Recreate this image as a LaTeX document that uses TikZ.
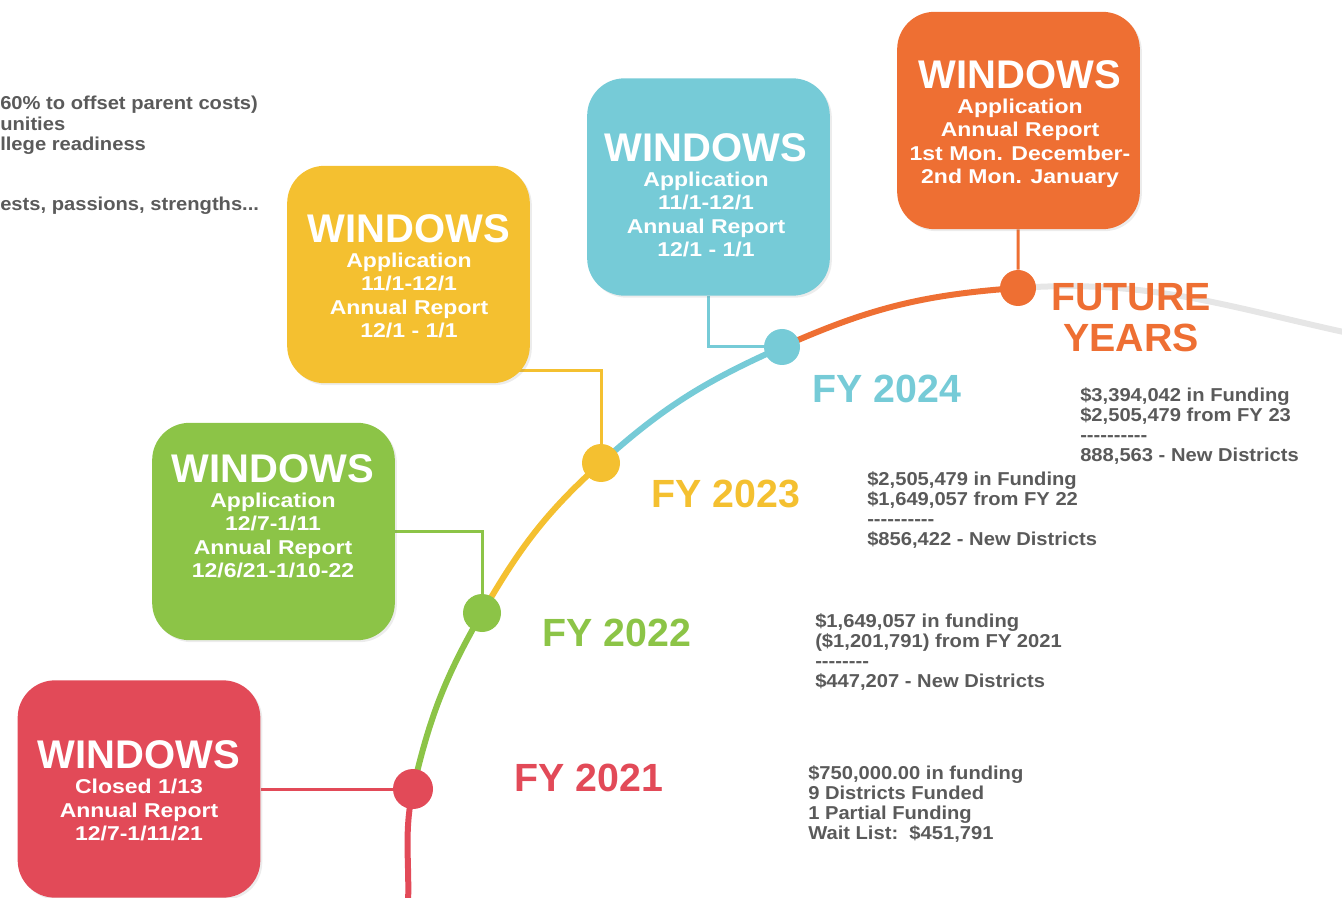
\documentclass[tikz,border=0pt]{standalone}
\usepackage{fontspec}
\setmainfont{Liberation Sans}
\newfontfamily\widefont[FakeStretch=1.15]{Liberation Sans}
\newfontfamily\notefont[FakeStretch=1.08]{Liberation Sans}
\usetikzlibrary{backgrounds}
\usetikzlibrary{shadows}
\definecolor{fyred}{HTML}{E24A58}
\definecolor{fygreen}{HTML}{8CC447}
\definecolor{fyyellow}{HTML}{F4C030}
\definecolor{fycyan}{HTML}{76CBD7}
\definecolor{fyorange}{HTML}{EE6F33}
\definecolor{notegray}{HTML}{5A5A5A}
\definecolor{arcgray}{HTML}{E6E6E6}
\tikzset{
    winbox/.style={rounded corners=28pt, minimum width=182pt, minimum height=163pt, inner sep=0pt, drop shadow={opacity=0.15, shadow xshift=1.5pt, shadow yshift=-1.5pt}},
    wintext/.style={anchor=north, inner sep=0pt, text=white, align=center, font=\widefont\bfseries\fontsize{15}{17.3}\selectfont},
    tdot/.style={circle, inner sep=0pt, minimum size=#1},
    arcline/.style={line width=4.5pt},
    link/.style={line width=2.25pt},
    fylabel/.style={inner sep=0pt, align=center, font=\bfseries\fontsize{29.5}{31}\selectfont},
    note/.style={anchor=north west, inner sep=0pt, align=left, text=notegray, font=\notefont\bfseries\fontsize{14}{15}\selectfont}
}
\newcommand\winhead{{\rmfamily\bfseries\fontsize{30}{30}\selectfont WINDOWS}\\[2pt]}
\newcommand\dashline[1]{\foreach\k in {1,...,#1}{-\kern0pt}}

\begin{document}
\begin{tikzpicture}[x=0.75pt, y=0.75pt]
\useasboundingbox (0,0) rectangle (1342,-898);
\foreach \x/\y/\p/\c/\s in {413/789/d21/fyred/30pt, 482/613/d22/fygreen/28.5pt, 601/463/d23/fyyellow/28.5pt, 782/347/d24/fycyan/27pt, 1018/288/dfut/fyorange/27pt}{
\node[tdot=\s, fill=\c] (\p) at (\x,-\y) {};
}
\coordinate (start) at (408,-905);
\coordinate (fend) at (1362,-336);
\foreach \x/\y/\p/\c in {139/789/w21/fyred, 273.5/531.5/w22/fygreen, 408.5/274.5/w23/fyyellow, 708.5/187/w24/fycyan, 1018.5/120.5/wfut/fyorange}{
\node[winbox, fill=\c] (\p) at (\x,-\y) {};
}
\node[wintext] (t21) at (139,-740) {\winhead Closed 1/13\\Annual Report\\12/7-1/11/21};
\node[wintext] (t22) at (273,-454) {\winhead Application\\12/7-1/11\\Annual Report\\12/6/21-1/10-22};
\node[wintext] (t23) at (409,-214) {\winhead Application\\11/1-12/1\\Annual Report\\12/1 - 1/1};
\node[wintext] (t24) at (706,-133) {\winhead Application\\11/1-12/1\\Annual Report\\12/1 - 1/1};
\node[wintext] (tfut) at (1020,-60) {\winhead Application\\Annual Report\\1st Mon. December-\\2nd Mon. January};
\foreach \x/\y/\p/\c/\t in {589/778/fy21/fyred/{FY 2021}, 617/633/fy22/fygreen/{FY 2022}, 726/494/fy23/fyyellow/{FY 2023}, 887/389/fy24/fycyan/{FY 2024}, 1131/317.5/fyfut/fyorange/{FUTURE\\YEARS}}{
\node[fylabel, text=\c] (\p) at (\x,-\y) {\t};
}
\node[note] (n21) at (808,-765) {\$750,000.00 in funding\\9 Districts Funded\\1 Partial Funding\\Wait List:\ \ \$451,791};
\node[note] (n22) at (815,-613) {\$1,649,057 in funding\\(\$1,201,791) from FY 2021\\\dashline{8}\\\$447,207 - New Districts};
\node[note] (n23) at (867,-471) {\$2,505,479 in Funding\\\$1,649,057 from FY 22\\\dashline{10}\\\$856,422 - New Districts};
\node[note] (nfut) at (1080,-387) {\$3,394,042 in Funding\\\$2,505,479 from FY 23\\\dashline{10}\\888,563 - New Districts};
\node[note] (intro) at (0,-96) {60\% to offset parent costs)};
\node[note] (goals) at (0,-117) {unities\\llege readiness\\[30pt]ests, passions, strengths...};
\begin{scope}[on background layer]
\draw[link, fyred] (w21) -- (d21);
\draw[link, fygreen] (w22) -| (d22);
\draw[link, fyyellow] ([yshift=-72pt]w23.center) -| (d23);
\draw[link, fycyan] (w24) |- (d24);
\draw[link, fyorange] (wfut) -- (dfut);
\draw[arcline, fyred] (start) to[out=88, in=258] (d21.center);
\draw[arcline, fygreen] (d21.center) to[out=77, in=240] (d22.center);
\draw[arcline, fyyellow] (d22.center) to[out=60, in=222] (d23.center);
\draw[arcline, fycyan] (d23.center) to[out=42, in=204] (d24.center);
\draw[arcline, fyorange] (d24.center) to[out=24, in=184] (dfut.center);
\draw[arcline, arcgray] (dfut.center) to[out=4, in=168] (fend);
\end{scope}
\end{tikzpicture}
\end{document}
